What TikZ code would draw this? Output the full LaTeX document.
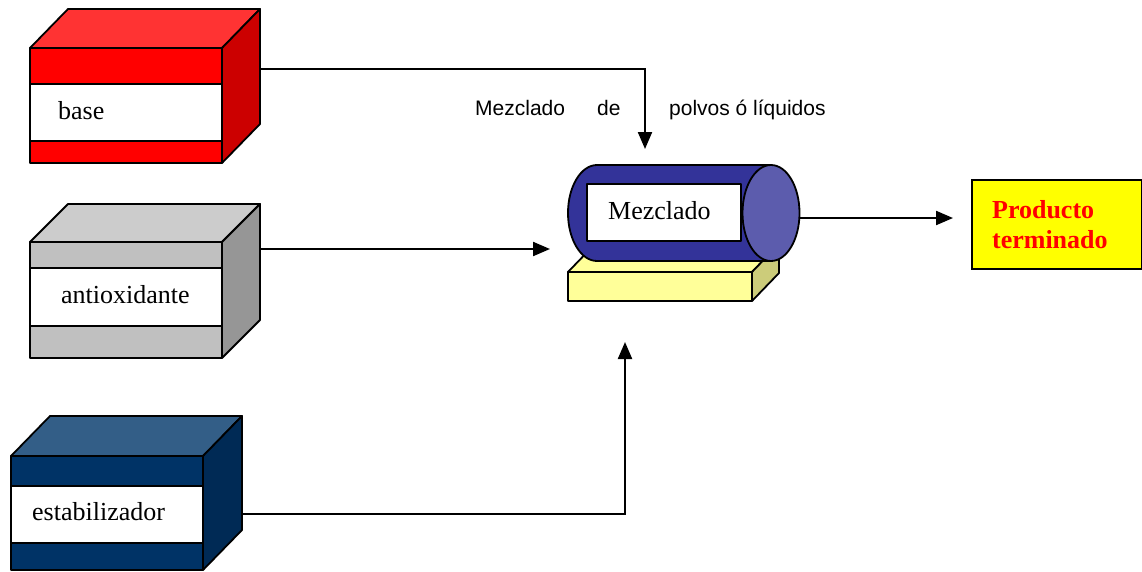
\documentclass[tikz,border=0pt]{standalone}
\usepackage{fontspec}
\setmainfont{Liberation Serif}
\newfontfamily\arialf{Liberation Sans}
\usetikzlibrary{arrows.meta,calc}
\definecolor{redtop}{HTML}{FF3333}
\definecolor{redfront}{HTML}{FF0000}
\definecolor{redside}{HTML}{CC0000}
\definecolor{graytop}{HTML}{CCCCCC}
\definecolor{grayfront}{HTML}{C0C0C0}
\definecolor{grayside}{HTML}{969696}
\definecolor{navytop}{HTML}{335E87}
\definecolor{navyfront}{HTML}{003366}
\definecolor{navyside}{HTML}{002A55}
\definecolor{cylbody}{HTML}{333399}
\definecolor{cylend}{HTML}{5C5CAD}
\definecolor{basefront}{HTML}{FFFF99}
\definecolor{baseside}{HTML}{CCCC7A}
\definecolor{prodfill}{HTML}{FFFF00}
\begin{document}
\begin{tikzpicture}[x=1pt,y=-1pt,
  face/.style={draw=black, line width=1.8pt, line join=round},
  frontbox/.style={face, rectangle, inner sep=0pt, outer sep=0pt, anchor=north west},
  band/.style={frontbox, fill=white},
  lbl/.style={font=\fontsize{26}{30}\selectfont, anchor=base west, inner sep=0pt},
  stxt/.style={font=\arialf\fontsize{21}{25}\selectfont, anchor=base west, inner sep=0pt},
  conn/.style={line width=2.2pt, -{Triangle[length=17pt,width=14pt]}}]
\useasboundingbox (0,0) rectangle (1142,571);

% ---- base (red) box
\node[frontbox, fill=redfront, minimum width=192pt, minimum height=115pt] (baseF) at (30,48) {};
\draw[face, fill=redtop] (baseF.north west) -- ++(38,-39) -- ++(192,0) -- (baseF.north east) -- cycle;
\draw[face, fill=redside] (baseF.north east) -- ++(38,-39) -- ++(0,115) -- (baseF.south east) -- cycle;
\node[band, minimum width=192pt, minimum height=57pt] (baseband) at (30,84) {};
\node[lbl] (basetxt) at (58,119) {base};

% ---- antioxidante (gray) box
\node[frontbox, fill=grayfront, minimum width=192pt, minimum height=116pt] (antiF) at (30,242) {};
\draw[face, fill=graytop] (antiF.north west) -- ++(38,-38) -- ++(192,0) -- (antiF.north east) -- cycle;
\draw[face, fill=grayside] (antiF.north east) -- ++(38,-38) -- ++(0,116) -- (antiF.south east) -- cycle;
\node[band, minimum width=192pt, minimum height=58pt] (antiband) at (30,268) {};
\node[lbl] (antitxt) at (61,303) {antioxidante};

% ---- estabilizador (navy) box
\node[frontbox, fill=navyfront, minimum width=192pt, minimum height=114pt] (estF) at (11,456) {};
\draw[face, fill=navytop] (estF.north west) -- ++(39,-40) -- ++(192,0) -- (estF.north east) -- cycle;
\draw[face, fill=navyside] (estF.north east) -- ++(39,-40) -- ++(0,114) -- (estF.south east) -- cycle;
\node[band, minimum width=192pt, minimum height=57pt] (estband) at (11,486) {};
\node[lbl] (esttxt) at (32,520) {estabilizador};

% ---- mixer: yellow base
\node[frontbox, fill=basefront, minimum width=184pt, minimum height=29pt] (mixbase) at (568,272) {};
\draw[face, fill=basefront] (mixbase.north west) -- ++(27,-28) -- ++(184,0) -- (mixbase.north east) -- cycle;
\draw[face, fill=baseside] (mixbase.north east) -- ++(27,-28) -- ++(0,29) -- (mixbase.south east) -- cycle;

% ---- mixer: cylinder
\draw[face, fill=cylbody] (771,165) -- (597,165)
  arc[start angle=270, end angle=90, x radius=29, y radius=48] -- (771,261) -- cycle;
\draw[face, fill=cylend] (771,213) ellipse [x radius=28.5, y radius=48];
\node[frontbox, fill=white, minimum width=154pt, minimum height=57pt] (mix) at (587,184) {};
\node[lbl] (mixtxt) at (608,219) {Mezclado};

% ---- product box
\node[draw=black, line width=2.2pt, fill=prodfill, rectangle, anchor=north west,
  minimum width=170pt, minimum height=89pt, text width=130pt, inner xsep=20pt,
  align=left, text=red, font=\bfseries\fontsize{26}{30}\selectfont] (prod) at (971,179) {Producto\\terminado};

% ---- caption text
\node[stxt] (cap1) at (475,115) {Mezclado};
\node[stxt] (cap2) at (597,115) {de};
\node[stxt] (cap3) at (669,115) {polvos ó líquidos};

% ---- connectors
\coordinate (baseout) at (260,69);
\coordinate (mixin1) at (645,149);
\draw[conn] (baseout) -| (mixin1);
\coordinate (antiout) at (260,249);
\coordinate (mixin2) at (550,249);
\draw[conn] (antiout) -- (mixin2);
\coordinate (estout) at (242,514);
\coordinate (mixin3) at (625,342);
\draw[conn] (estout) -| (mixin3);
\coordinate (mixout) at (799,218);
\coordinate (prodin) at (953,218);
\draw[conn] (mixout) -- (prodin);
\end{tikzpicture}
\end{document}
